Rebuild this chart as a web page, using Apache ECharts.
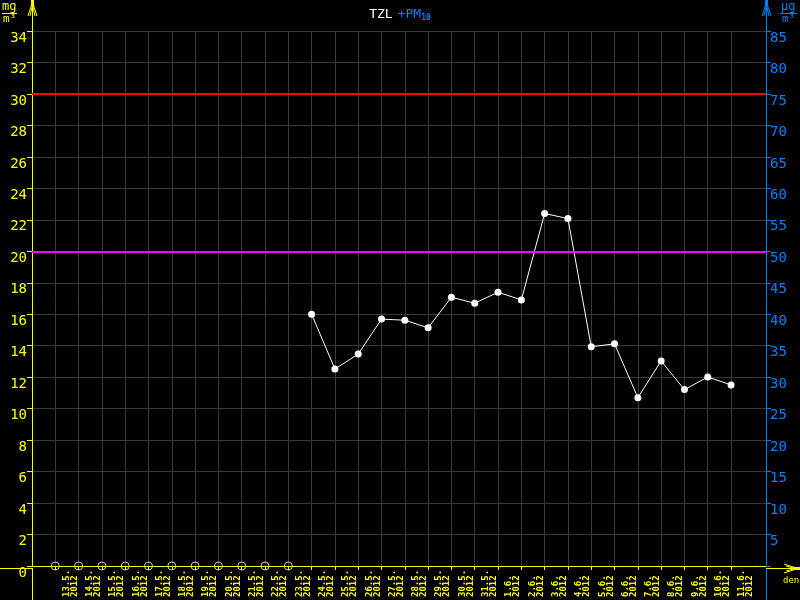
<!DOCTYPE html>
<html><head><meta charset="utf-8">
<script src="https://cdn.jsdelivr.net/npm/echarts@6/dist/echarts.min.js"></script>
<style>html,body{margin:0;padding:0;background:#000;}#c{width:800px;height:600px;}</style>
</head><body><div id="c"></div>
<script>
// ---- data ----
const dates = ['13.5.','14.5.','15.5.','16.5.','17.5.','18.5.','19.5.','20.5.','21.5.','22.5.','23.5.',
  '24.5.','25.5.','26.5.','27.5.','28.5.','29.5.','30.5.','31.5.',
  '1.6.','2.6.','3.6.','4.6.','5.6.','6.6.','7.6.','8.6.','9.6.','10.6.','11.6.'];
const year = '2012';
const tzl = [null,null,null,null,null,null,null,null,null,null,null,
  16.0,12.52,13.47,15.69,15.62,15.14,17.08,16.70,17.40,16.91,22.40,22.08,
  13.93,14.12,10.70,13.03,11.21,12.01,11.51];
const rightTicks = [5,10,15,20,25,30,35,40,45,50,55,60,65,70,75,80,85];
const limitValues = [30, 20];
const limitColors = ['#ff0000', '#ff00ff'];

const YEL = '#ffff00', BLU = '#0080ff', GRID = '#3a3a3a';
const FONT = 'DejaVu Sans Mono';

const lineData = tzl.map((v, i) => v == null ? null : [i, v]).filter(d => d);
const missData = tzl.map((v, i) => v == null ? [i, 0] : null).filter(d => d);
const idx = dates.map((d, i) => i);

const chart = echarts.init(document.getElementById('c'), null, {renderer: 'canvas'});
chart.setOption({
  backgroundColor: '#000',
  animation: false,
  title: {
    left: 'center', top: 1,
    text: '{a|TZL} {b|+PM}{c|10}',
    textStyle: {
      fontWeight: 'normal',
      rich: {
        a: {color: '#fff', fontFamily: FONT, fontSize: 13, fontWeight: 'normal'},
        b: {color: BLU, fontFamily: FONT, fontSize: 13, fontWeight: 'normal'},
        c: {color: BLU, fontFamily: FONT, fontSize: 8, fontWeight: 'bold', padding: [6, 0, 0, 0]}
      }
    }
  },
  grid: {left: 32, right: 34, top: 31, bottom: 32, containLabel: false},
  xAxis: {
    type: 'value', min: -1, max: 30.5, interval: 1,
    axisLine: {show: true, onZero: false, lineStyle: {color: YEL, width: 1}},
    axisTick: {show: true, length: 4, lineStyle: {color: YEL}, customValues: idx},
    splitLine: {show: true, lineStyle: {color: GRID, width: 1}},
    axisLabel: {
      customValues: idx,
      formatter: v => (dates[Math.round(v)] || '') + '\n' + year,
      rotate: 90, align: 'left', verticalAlign: 'top', margin: 31,
      padding: [7, 0, 0, 0],
      color: YEL, fontFamily: FONT, fontSize: 9, lineHeight: 8, fontWeight: 'bold'
    }
  },
  yAxis: [
    {
      type: 'value', min: 0, max: 34, interval: 2, position: 'left',
      axisLine: {show: true, onZero: false, lineStyle: {color: YEL}},
      axisTick: {show: true, length: 5, lineStyle: {color: YEL}},
      splitLine: {show: true, lineStyle: {color: GRID}},
      axisLabel: {margin: 5, color: YEL, fontFamily: FONT, fontSize: 14, verticalAlign: 'top'}
    },
    {
      type: 'value', min: 0, max: 85, interval: 5, position: 'right',
      axisLine: {show: true, onZero: false, lineStyle: {color: BLU}},
      axisTick: {show: true, length: 5, lineStyle: {color: BLU}},
      splitLine: {show: false},
      axisLabel: {customValues: rightTicks, margin: 4, color: BLU, fontFamily: FONT, fontSize: 14, verticalAlign: 'top'}
    }
  ],
  series: [
    {
      type: 'line', yAxisIndex: 0, data: [], silent: true,
      markLine: {
        silent: true, symbol: 'none', label: {show: false},
        data: limitValues.map((v, i) => ({yAxis: v, lineStyle: {color: limitColors[i], width: 2, type: 'solid'}}))
      }
    },
    {
      type: 'line', yAxisIndex: 0, data: lineData,
      lineStyle: {color: '#fff', width: 1},
      symbol: 'circle', symbolSize: 7,
      itemStyle: {color: '#fff'}
    },
    {
      type: 'scatter', yAxisIndex: 0, data: missData,
      symbol: 'circle', symbolSize: 8,
      itemStyle: {color: 'rgba(0,0,0,0)', borderColor: '#fff', borderWidth: 1}
    }
  ],
  graphic: [
    // left axis extension and arrow
    {type: 'line', shape: {x1: 32.5, y1: 0, x2: 32.5, y2: 31}, style: {stroke: YEL, lineWidth: 1}},
    {type: 'line', shape: {x1: 32.5, y1: 568, x2: 32.5, y2: 600}, style: {stroke: YEL, lineWidth: 1}},
    {type: 'polyline', shape: {points: [[28, 16], [32.5, 2], [37, 16]]}, style: {stroke: YEL, lineWidth: 1, fill: null}},
    {type: 'polyline', shape: {points: [[30, 16], [32.5, 5], [35, 16]]}, style: {stroke: YEL, lineWidth: 1, fill: null}},
    {type: 'rect', shape: {x: 31, y: 0, width: 3, height: 7}, style: {fill: YEL}},
    // right axis extension and arrow
    {type: 'line', shape: {x1: 766.5, y1: 0, x2: 766.5, y2: 31}, style: {stroke: BLU, lineWidth: 1}},
    {type: 'line', shape: {x1: 766.5, y1: 568, x2: 766.5, y2: 600}, style: {stroke: BLU, lineWidth: 1}},
    {type: 'polyline', shape: {points: [[762, 16], [766.5, 2], [771, 16]]}, style: {stroke: BLU, lineWidth: 1, fill: null}},
    {type: 'polyline', shape: {points: [[764, 16], [766.5, 5], [769, 16]]}, style: {stroke: BLU, lineWidth: 1, fill: null}},
    {type: 'rect', shape: {x: 765, y: 0, width: 3, height: 7}, style: {fill: BLU}},
    // x axis extension and arrow
    {type: 'line', shape: {x1: 0, y1: 568.5, x2: 32, y2: 568.5}, style: {stroke: YEL, lineWidth: 1}},
    {type: 'line', shape: {x1: 766, y1: 568.5, x2: 800, y2: 568.5}, style: {stroke: YEL, lineWidth: 1}},
    {type: 'polyline', shape: {points: [[784, 564], [798, 568.5], [784, 573]]}, style: {stroke: YEL, lineWidth: 1, fill: null}},
    {type: 'polyline', shape: {points: [[786, 566], [795, 568.5], [786, 571]]}, style: {stroke: YEL, lineWidth: 1, fill: null}},
    {type: 'rect', shape: {x: 793, y: 567, width: 7, height: 3}, style: {fill: YEL}},
    // units
    {type: 'text', left: 2, top: 1, style: {text: 'mg', fill: YEL, font: '12px ' + FONT}},
    {type: 'line', shape: {x1: 2, y1: 13.5, x2: 17, y2: 13.5}, style: {stroke: YEL, lineWidth: 1}},
    {type: 'text', left: 3, top: 14, style: {text: 'm³', fill: YEL, font: '11px ' + FONT}},
    {type: 'text', left: 781, top: 1, style: {text: 'µg', fill: BLU, font: '12px ' + FONT}},
    {type: 'line', shape: {x1: 780, y1: 13.5, x2: 797, y2: 13.5}, style: {stroke: BLU, lineWidth: 1}},
    {type: 'text', left: 782, top: 14, style: {text: 'm³', fill: BLU, font: '11px ' + FONT}},
    {type: 'text', left: 783, top: 576, style: {text: 'den', fill: YEL, font: '9px ' + FONT}}
  ]
});
</script></body></html>
